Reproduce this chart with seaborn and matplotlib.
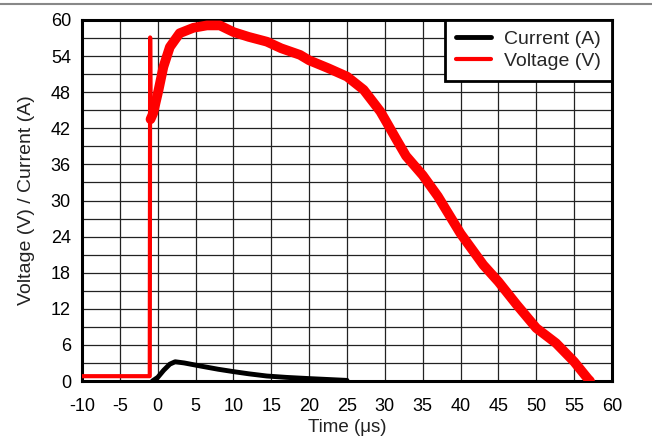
import numpy as np
import pandas as pd
import seaborn as sns
import matplotlib.pyplot as plt
from matplotlib.lines import Line2D
from matplotlib.ticker import MultipleLocator

volt_t = [-10, -1.05, -1.0, -0.95, -0.6, 0.1, 0.75, 1.6, 2.9, 4.7, 6.5, 8.2,
          10, 12, 14.4, 16.3, 18.8, 20, 22.5, 25, 27.2, 29.4, 30, 31.5, 32.8,
          35, 37, 40, 43, 45, 47.4, 50, 52.6, 55, 56.8, 57.1]
volt_v = [0.8, 0.8, 57.1, 43.5, 44.5, 48.3, 52.2, 55.5, 57.8, 58.7, 59.1, 59.1,
          58.0, 57.2, 56.4, 55.3, 54.2, 53.3, 52.0, 50.6, 48.4, 44.8, 43.5, 40.2,
          37.4, 34.2, 30.7, 24.5, 19.3, 16.5, 12.7, 8.8, 6.3, 3.2, 0.4, 0.0]

curr_t = [-0.7, 0, 0.8, 1.6, 2.3, 3.5, 5.6, 8, 10, 12, 14.4, 17, 20, 22.5, 25]
curr_i = [0, 0.6, 1.8, 2.8, 3.2, 3.0, 2.5, 1.95, 1.56, 1.2, 0.83, 0.6, 0.4, 0.25, 0.1]

x_ticks = list(range(-10, 61, 5))
y_ticks = list(range(0, 61, 6))

sns.set_style("white")
plt.rcParams["font.family"] = ["Liberation Sans", "DejaVu Sans"]
plt.rcParams["axes.unicode_minus"] = False

fig = plt.figure(figsize=(6.52, 4.41), dpi=100)
ax = fig.add_axes([82 / 652, 1 - 381 / 441, 530 / 652, 361 / 441])

volt = pd.DataFrame({"t": volt_t, "v": volt_v})
curr = pd.DataFrame({"t": curr_t, "i": curr_i})

# Current
sns.lineplot(data=curr, x="t", y="i", color="black", linewidth=3.5,
             estimator=None, sort=False, label="Current (A)", ax=ax, zorder=4)

# Voltage: thin baseline + spike, thick noisy main pulse
sns.lineplot(data=volt, x="t", y="v", color="red", linewidth=3.0,
             estimator=None, sort=False, label="Voltage (V)", ax=ax, zorder=3)
sns.lineplot(data=volt.iloc[3:], x="t", y="v", color="red", linewidth=7,
             estimator=None, sort=False, ax=ax, zorder=3, legend=False)

# Axes limits & grid
ax.set_xlim(-10, 60)
ax.set_ylim(0, 60)
ax.set_xticks(x_ticks)
ax.set_yticks(y_ticks)
ax.yaxis.set_minor_locator(MultipleLocator(3))
ax.grid(which="both", color="#222222", linewidth=0.9)
ax.set_axisbelow(True)
ax.tick_params(axis="both", which="both", length=0, labelsize=13, colors="black")
ax.tick_params(axis="x", pad=12)
ax.tick_params(axis="y", pad=8)

for s in ax.spines.values():
    s.set_color("black")
    s.set_linewidth(2.2)

# Labels
ax.set_xlabel("Time (μs)", fontsize=13.5, color="#222222", labelpad=3)
ax.set_ylabel("Voltage (V) / Current (A)", fontsize=14, color="#222222", labelpad=11)

# Legend
leg = ax.legend(loc="upper right", borderaxespad=0, fontsize=14, fancybox=False,
                framealpha=1, edgecolor="black", handlelength=1.8,
                borderpad=0.55, labelspacing=0.2, handletextpad=0.7)
leg.get_frame().set_linewidth(2)
leg.set_zorder(10)

# thin rule across the top of the image
fig.add_artist(Line2D([0, 1], [1 - 4 / 441, 1 - 4 / 441], color="#888888", linewidth=1.5))

plt.savefig("out.png", dpi=100)
